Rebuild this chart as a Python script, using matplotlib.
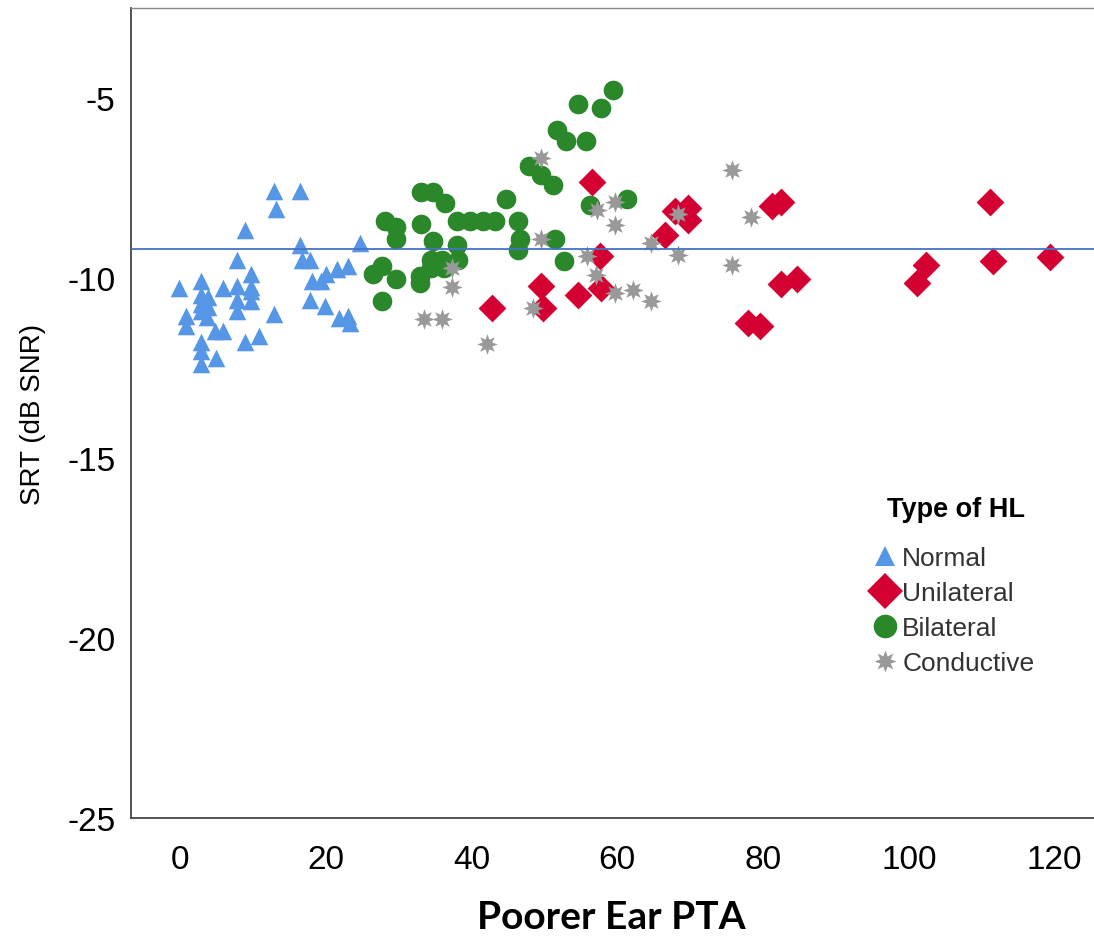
import matplotlib
matplotlib.use("Agg")
import matplotlib.pyplot as plt
from matplotlib.lines import Line2D

# ---- data ----
normal_x = [12.9, 16.5, 13.2, 8.9, 16.5, 24.7, 7.9, 16.8, 17.8, 9.8, -0.1, 2.9, 5.9, 7.9, 9.8,
            2.9, 3.9, 2.9, 3.9, 2.9, 3.7, 7.9, 7.9, 9.8, 9.8, 0.9, 0.9, 4.8, 5.9, 12.9, 8.9, 10.9,
            2.9, 2.9, 4.9, 2.9, 18.1, 19.4, 20.1, 21.5, 23.1, 17.8, 19.9, 21.9, 23.1, 23.3]
normal_y = [-7.58, -7.58, -8.08, -8.68, -9.07, -9.02, -9.49, -9.49, -9.49, -9.9, -10.27, -10.09, -10.27, -10.23, -10.26,
            -10.46, -10.54, -10.73, -10.8, -10.93, -11.07, -10.6, -10.93, -10.37, -10.65, -11.06, -11.34, -11.48, -11.48, -10.99, -11.79, -11.61,
            -11.79, -12.03, -12.22, -12.4, -10.09, -10.09, -9.9, -9.76, -9.67, -10.6, -10.78, -11.11, -11.06, -11.25]

bilateral_x = [54.6, 57.8, 59.4, 51.7, 53.0, 55.7, 47.9, 49.6, 51.2, 33.1, 34.8, 36.4, 44.7, 28.1, 29.7, 29.7,
               33.1, 38.0, 39.8, 41.6, 43.2, 46.4, 46.6, 46.4, 34.8, 38.0, 34.5, 35.9, 38.2, 34.5, 36.3,
               27.7, 26.5, 29.7, 32.9, 32.9, 27.8, 51.4, 52.7, 56.2, 61.3]
bilateral_y = [-5.17, -5.29, -4.78, -5.88, -6.2, -6.19, -6.9, -7.13, -7.41, -7.61, -7.6, -7.92, -7.81, -8.43, -8.57, -8.93,
               -8.5, -8.43, -8.43, -8.43, -8.43, -8.43, -8.93, -9.21, -8.97, -9.07, -9.49, -9.49, -9.49, -9.72, -9.72,
               -9.67, -9.9, -10.04, -9.95, -10.14, -10.65, -8.93, -9.53, -7.97, -7.81]

unilateral_x = [56.5, 42.8, 49.6, 49.8, 54.6, 57.6, 57.8, 67.9, 69.7, 69.7, 66.5, 81.2, 82.5, 82.5, 84.6,
                78.0, 79.6, 111.1, 102.4, 101.1, 111.5, 119.3]
unilateral_y = [-7.33, -10.83, -10.23, -10.83, -10.46, -9.38, -10.27, -8.14, -8.05, -8.38, -8.8, -8.0, -7.9, -10.18, -10.04,
                -11.25, -11.34, -7.9, -9.63, -10.14, -9.53, -9.43]

conductive_x = [49.6, 49.6, 37.3, 37.3, 33.5, 36.0, 42.2, 48.4, 55.8, 57.1, 75.8, 57.2, 59.7, 59.7, 68.4,
                64.6, 68.4, 59.7, 62.2, 64.6, 78.3, 75.8]
conductive_y = [-6.68, -8.93, -9.72, -10.26, -11.15, -11.15, -11.84, -10.83, -9.38, -9.93, -7.0, -8.1, -7.9, -8.52, -8.21,
                -9.02, -9.35, -10.43, -10.34, -10.65, -8.3, -9.63]

ref_line_y = -9.2
group_labels = ["Normal", "Unilateral", "Bilateral", "Conductive"]
x_ticks = [0, 20, 40, 60, 80, 100, 120]
y_ticks = [-5, -10, -15, -20, -25]

# ---- style ----
c_blue = "#5596e6"
c_red = "#d50032"
c_green = "#2a872a"
c_gray = "#999999"
star8 = (8, 1, 0)

plt.rcParams["font.family"] = ["Liberation Sans", "DejaVu Sans"]

fig = plt.figure(figsize=(10.94, 9.37), dpi=100)
ax = fig.add_axes([0.1197, 0.1259, 0.8803, 0.8645])

ax.scatter(normal_x, normal_y, marker="^", s=160, color=c_blue, linewidths=0, zorder=2)
ax.scatter(bilateral_x, bilateral_y, marker="o", s=200, color=c_green, linewidths=0, zorder=3)
ax.scatter(unilateral_x, unilateral_y, marker="D", s=200, color=c_red, linewidths=0, zorder=4)
ax.scatter(conductive_x, conductive_y, marker=star8, s=220, color=c_gray, linewidths=0, zorder=5)
ax.axhline(ref_line_y, color="#4472c4", lw=1.3, zorder=6)

ax.set_xlim(-6.7, 125.4)
ax.set_ylim(-25, -2.5)
ax.set_xticks(x_ticks)
ax.set_xticklabels([str(t) for t in x_ticks])
ax.set_yticks(y_ticks)
ax.set_yticklabels([str(t) for t in y_ticks])
ax.tick_params(axis="both", length=0, labelsize=24, colors="black")
ax.tick_params(axis="x", pad=19)
ax.tick_params(axis="y", pad=11)

for s in ["left", "bottom"]:
    ax.spines[s].set_color("#444444")
    ax.spines[s].set_linewidth(1.3)
ax.spines["top"].set_color("#888888")
ax.spines["top"].set_linewidth(1.0)
ax.spines["right"].set_visible(False)

ax.set_ylabel("SRT (dB SNR)", fontsize=20)
ax.yaxis.set_label_coords(-0.088, 0.5)
fig.text(0.5585, 1 - 918 / 937, "Poorer Ear PTA", fontsize=28, fontweight="bold",
         family=["Lato", "DejaVu Sans"], ha="center", va="center")

# legend title drawn as text, entries as legend
fig.text(956 / 1094, 1 - 510 / 937, "Type of HL", fontsize=19.5, fontweight="bold",
         ha="center", va="center")
handles = [
    Line2D([], [], ls="none", marker="^", markersize=15, color=c_blue, markeredgewidth=0),
    Line2D([], [], ls="none", marker="D", markersize=18, color=c_red, markeredgewidth=0),
    Line2D([], [], ls="none", marker="o", markersize=17, color=c_green, markeredgewidth=0),
    Line2D([], [], ls="none", marker=star8, markersize=16, color=c_gray, markeredgewidth=0),
]
leg = ax.legend(handles, group_labels, loc="upper left",
                bbox_to_anchor=(872 / 1094, 1 - 547 / 937), bbox_transform=fig.transFigure,
                frameon=False, fontsize=19, handlelength=1.0, handletextpad=0.15,
                labelspacing=0.42, borderpad=0, borderaxespad=0)
for t in leg.get_texts():
    t.set_color("#333333")

fig.savefig("out.png", dpi=100)
